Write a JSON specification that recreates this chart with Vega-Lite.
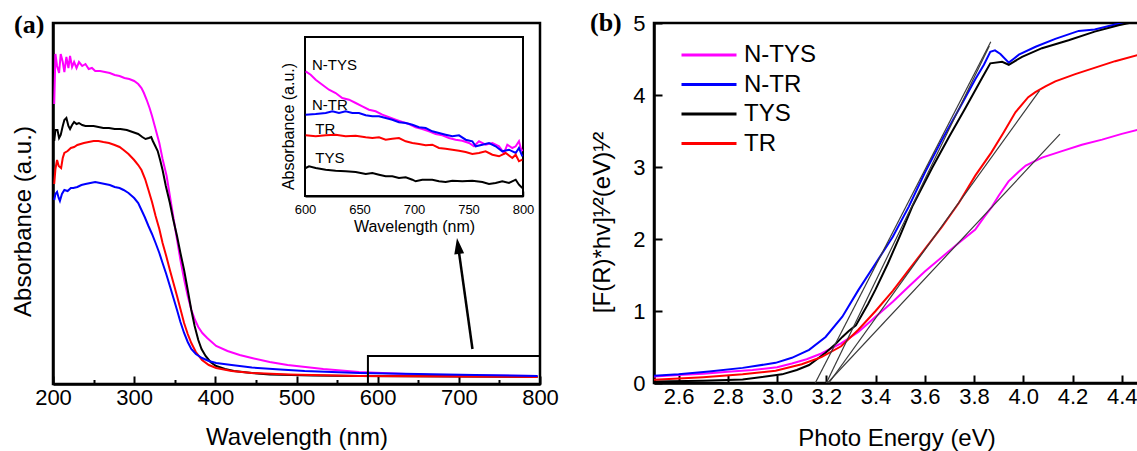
{
  "$schema": "https://vega.github.io/schema/vega-lite/v6.json",
  "background": "white",
  "padding": {"left": 9, "top": 8, "right": 0, "bottom": 0},
  "autosize": {"type": "pad"},
  "bounds": "flush",
  "spacing": 114,
  "config": {
    "font": "Liberation Sans",
    "view": {"stroke": "black", "strokeWidth": 2.5},
    "axis": {"domainColor": "black", "domainWidth": 2.5, "tickColor": "black", "tickWidth": 2, "labelFont": "Liberation Sans", "titleFont": "Liberation Sans", "labelColor": "black", "titleColor": "black", "titleFontWeight": "normal", "grid": false, "labelFlush": false, "labelOverlap": false},
    "text": {"font": "Liberation Sans"}
  },
  "resolve": {"scale": {"color": "independent"}},
  "datasets": {
    "mainA": [
      {"s":"N-TYS","wl":201.5,"v":280},{"s":"N-TYS","wl":203,"v":330},{"s":"N-TYS","wl":205,"v":318},{"s":"N-TYS","wl":207.5,"v":311},{"s":"N-TYS","wl":209.5,"v":330},{"s":"N-TYS","wl":212,"v":322},{"s":"N-TYS","wl":214,"v":312},{"s":"N-TYS","wl":216.5,"v":327},{"s":"N-TYS","wl":219,"v":316},{"s":"N-TYS","wl":221,"v":328},{"s":"N-TYS","wl":223.5,"v":317},{"s":"N-TYS","wl":226,"v":322},{"s":"N-TYS","wl":229,"v":316},{"s":"N-TYS","wl":232,"v":322},{"s":"N-TYS","wl":236,"v":318},{"s":"N-TYS","wl":240,"v":320},{"s":"N-TYS","wl":244,"v":315},{"s":"N-TYS","wl":248,"v":316},{"s":"N-TYS","wl":252,"v":313},{"s":"N-TYS","wl":258,"v":313},{"s":"N-TYS","wl":264,"v":312},{"s":"N-TYS","wl":270,"v":311},{"s":"N-TYS","wl":276,"v":309},{"s":"N-TYS","wl":282,"v":308},{"s":"N-TYS","wl":288,"v":306},{"s":"N-TYS","wl":294,"v":305},{"s":"N-TYS","wl":300,"v":303},{"s":"N-TYS","wl":305,"v":300},{"s":"N-TYS","wl":309,"v":296},{"s":"N-TYS","wl":312,"v":291},{"s":"N-TYS","wl":315.5,"v":284},{"s":"N-TYS","wl":319,"v":276},{"s":"N-TYS","wl":322,"v":268},{"s":"N-TYS","wl":326,"v":256},{"s":"N-TYS","wl":331,"v":241},{"s":"N-TYS","wl":335,"v":225},{"s":"N-TYS","wl":340,"v":208},{"s":"N-TYS","wl":344,"v":188},{"s":"N-TYS","wl":348,"v":168},{"s":"N-TYS","wl":352.5,"v":146},{"s":"N-TYS","wl":357,"v":124},{"s":"N-TYS","wl":361.5,"v":105},{"s":"N-TYS","wl":366,"v":88},{"s":"N-TYS","wl":370.5,"v":74},{"s":"N-TYS","wl":375,"v":64},{"s":"N-TYS","wl":379,"v":57},{"s":"N-TYS","wl":384,"v":51},{"s":"N-TYS","wl":390,"v":46},{"s":"N-TYS","wl":401,"v":38},{"s":"N-TYS","wl":415,"v":33},{"s":"N-TYS","wl":430,"v":29},{"s":"N-TYS","wl":445,"v":26},{"s":"N-TYS","wl":467,"v":22},{"s":"N-TYS","wl":489,"v":19},{"s":"N-TYS","wl":511,"v":17},{"s":"N-TYS","wl":533,"v":15},{"s":"N-TYS","wl":555,"v":13.5},{"s":"N-TYS","wl":577,"v":12},{"s":"N-TYS","wl":620,"v":10.5},{"s":"N-TYS","wl":665,"v":9},{"s":"N-TYS","wl":730,"v":8.5},{"s":"N-TYS","wl":797,"v":8},
      {"s":"TYS","wl":201.5,"v":243},{"s":"TYS","wl":203,"v":254},{"s":"TYS","wl":205.5,"v":254},{"s":"TYS","wl":207.5,"v":246},{"s":"TYS","wl":209.5,"v":249},{"s":"TYS","wl":212,"v":258},{"s":"TYS","wl":214,"v":264},{"s":"TYS","wl":216.5,"v":266},{"s":"TYS","wl":219,"v":258},{"s":"TYS","wl":221,"v":255},{"s":"TYS","wl":223.5,"v":259},{"s":"TYS","wl":226,"v":262},{"s":"TYS","wl":229,"v":260},{"s":"TYS","wl":232,"v":261},{"s":"TYS","wl":236,"v":259},{"s":"TYS","wl":240,"v":258},{"s":"TYS","wl":245,"v":258},{"s":"TYS","wl":250,"v":258},{"s":"TYS","wl":256,"v":257},{"s":"TYS","wl":262,"v":256},{"s":"TYS","wl":269,"v":256},{"s":"TYS","wl":276,"v":255},{"s":"TYS","wl":283,"v":255},{"s":"TYS","wl":291,"v":254},{"s":"TYS","wl":298,"v":252},{"s":"TYS","wl":305,"v":250},{"s":"TYS","wl":310,"v":247},{"s":"TYS","wl":314,"v":245},{"s":"TYS","wl":318,"v":246},{"s":"TYS","wl":321,"v":247},{"s":"TYS","wl":323,"v":243},{"s":"TYS","wl":326,"v":238},{"s":"TYS","wl":329,"v":233},{"s":"TYS","wl":332,"v":224},{"s":"TYS","wl":335,"v":214},{"s":"TYS","wl":339,"v":198},{"s":"TYS","wl":344,"v":181},{"s":"TYS","wl":348,"v":165},{"s":"TYS","wl":352.8,"v":148},{"s":"TYS","wl":357,"v":131},{"s":"TYS","wl":361.5,"v":114},{"s":"TYS","wl":366,"v":94},{"s":"TYS","wl":370.4,"v":74},{"s":"TYS","wl":374.5,"v":58},{"s":"TYS","wl":379,"v":44},{"s":"TYS","wl":383,"v":35},{"s":"TYS","wl":388,"v":28},{"s":"TYS","wl":394,"v":22},{"s":"TYS","wl":401,"v":18},{"s":"TYS","wl":412,"v":15},{"s":"TYS","wl":423,"v":13},{"s":"TYS","wl":445,"v":11},{"s":"TYS","wl":467,"v":9.5},{"s":"TYS","wl":520,"v":8.5},{"s":"TYS","wl":577,"v":8},{"s":"TYS","wl":700,"v":7.5},{"s":"TYS","wl":797,"v":7},
      {"s":"TR","wl":201.5,"v":200},{"s":"TR","wl":203,"v":215},{"s":"TR","wl":205,"v":224},{"s":"TR","wl":207,"v":218},{"s":"TR","wl":210,"v":216},{"s":"TR","wl":212,"v":226},{"s":"TR","wl":214,"v":231},{"s":"TR","wl":218,"v":233},{"s":"TR","wl":222,"v":236},{"s":"TR","wl":226,"v":237},{"s":"TR","wl":230,"v":239},{"s":"TR","wl":234,"v":240},{"s":"TR","wl":238,"v":241},{"s":"TR","wl":244,"v":242},{"s":"TR","wl":250,"v":243},{"s":"TR","wl":256,"v":243},{"s":"TR","wl":262,"v":242},{"s":"TR","wl":269,"v":241},{"s":"TR","wl":276,"v":239},{"s":"TR","wl":282,"v":237},{"s":"TR","wl":287,"v":234},{"s":"TR","wl":293,"v":230},{"s":"TR","wl":300,"v":224},{"s":"TR","wl":305,"v":219},{"s":"TR","wl":309,"v":214},{"s":"TR","wl":313.5,"v":205},{"s":"TR","wl":317.6,"v":194},{"s":"TR","wl":322,"v":182},{"s":"TR","wl":326.4,"v":168},{"s":"TR","wl":331,"v":155},{"s":"TR","wl":335,"v":141},{"s":"TR","wl":339.5,"v":128},{"s":"TR","wl":344,"v":114},{"s":"TR","wl":348.4,"v":101},{"s":"TR","wl":352.8,"v":88},{"s":"TR","wl":357,"v":75},{"s":"TR","wl":361.5,"v":61},{"s":"TR","wl":366,"v":50},{"s":"TR","wl":370.4,"v":41},{"s":"TR","wl":376,"v":32},{"s":"TR","wl":383.6,"v":24},{"s":"TR","wl":392,"v":19},{"s":"TR","wl":401,"v":16},{"s":"TR","wl":420,"v":13},{"s":"TR","wl":445,"v":11},{"s":"TR","wl":490,"v":9.5},{"s":"TR","wl":577,"v":8},{"s":"TR","wl":700,"v":7.5},{"s":"TR","wl":797,"v":7},
      {"s":"N-TR","wl":201.5,"v":184},{"s":"N-TR","wl":203,"v":190},{"s":"N-TR","wl":205,"v":192},{"s":"N-TR","wl":207,"v":186},{"s":"N-TR","wl":208.5,"v":183},{"s":"N-TR","wl":211,"v":190},{"s":"N-TR","wl":214,"v":194},{"s":"N-TR","wl":218,"v":193},{"s":"N-TR","wl":222,"v":196},{"s":"N-TR","wl":225,"v":196},{"s":"N-TR","wl":230,"v":197},{"s":"N-TR","wl":235,"v":199},{"s":"N-TR","wl":240,"v":200},{"s":"N-TR","wl":246,"v":201},{"s":"N-TR","wl":252,"v":202},{"s":"N-TR","wl":258,"v":201},{"s":"N-TR","wl":264,"v":200},{"s":"N-TR","wl":270,"v":199},{"s":"N-TR","wl":276,"v":197},{"s":"N-TR","wl":282,"v":196},{"s":"N-TR","wl":287,"v":194},{"s":"N-TR","wl":293,"v":191},{"s":"N-TR","wl":300,"v":186},{"s":"N-TR","wl":305,"v":181},{"s":"N-TR","wl":309,"v":174},{"s":"N-TR","wl":313,"v":167},{"s":"N-TR","wl":317.6,"v":158},{"s":"N-TR","wl":322,"v":150},{"s":"N-TR","wl":326.4,"v":141},{"s":"N-TR","wl":331,"v":131},{"s":"N-TR","wl":335,"v":121},{"s":"N-TR","wl":339.5,"v":110},{"s":"N-TR","wl":344,"v":98},{"s":"N-TR","wl":348.4,"v":86},{"s":"N-TR","wl":352.8,"v":74},{"s":"N-TR","wl":357,"v":62},{"s":"N-TR","wl":361.5,"v":51},{"s":"N-TR","wl":366,"v":42},{"s":"N-TR","wl":370.4,"v":35},{"s":"N-TR","wl":376,"v":30},{"s":"N-TR","wl":383.6,"v":26},{"s":"N-TR","wl":392,"v":23},{"s":"N-TR","wl":401,"v":21},{"s":"N-TR","wl":420,"v":19},{"s":"N-TR","wl":445,"v":16.5},{"s":"N-TR","wl":480,"v":14.5},{"s":"N-TR","wl":510,"v":13},{"s":"N-TR","wl":577,"v":11},{"s":"N-TR","wl":650,"v":10},{"s":"N-TR","wl":720,"v":9},{"s":"N-TR","wl":797,"v":8}
    ],
    "insetA": [
      {"s":"N-TYS","wl":600.6,"v":124.7},{"s":"N-TYS","wl":605.2,"v":121.3},{"s":"N-TYS","wl":609.8,"v":116.3},{"s":"N-TYS","wl":615.9,"v":111.3},{"s":"N-TYS","wl":622,"v":106.3},{"s":"N-TYS","wl":628.1,"v":103},{"s":"N-TYS","wl":634.2,"v":98},{"s":"N-TYS","wl":640.4,"v":96.3},{"s":"N-TYS","wl":646.5,"v":93},{"s":"N-TYS","wl":652.6,"v":89.7},{"s":"N-TYS","wl":658.7,"v":86.3},{"s":"N-TYS","wl":664.8,"v":84.7},{"s":"N-TYS","wl":670.9,"v":81.3},{"s":"N-TYS","wl":677.1,"v":78.7},{"s":"N-TYS","wl":683.2,"v":76.3},{"s":"N-TYS","wl":689.3,"v":74},{"s":"N-TYS","wl":695.4,"v":72},{"s":"N-TYS","wl":701.5,"v":68.7},{"s":"N-TYS","wl":707.6,"v":67},{"s":"N-TYS","wl":713.8,"v":64.7},{"s":"N-TYS","wl":719.9,"v":62},{"s":"N-TYS","wl":726,"v":60.7},{"s":"N-TYS","wl":732.1,"v":58},{"s":"N-TYS","wl":738.2,"v":56.3},{"s":"N-TYS","wl":744.3,"v":55.3},{"s":"N-TYS","wl":750.5,"v":53},{"s":"N-TYS","wl":755,"v":49.7},{"s":"N-TYS","wl":759.6,"v":54.7},{"s":"N-TYS","wl":765.7,"v":51.3},{"s":"N-TYS","wl":771.9,"v":53},{"s":"N-TYS","wl":778,"v":49.7},{"s":"N-TYS","wl":782.6,"v":43},{"s":"N-TYS","wl":785.6,"v":51.3},{"s":"N-TYS","wl":790.2,"v":48},{"s":"N-TYS","wl":793.3,"v":49.7},{"s":"N-TYS","wl":796.3,"v":54.7},{"s":"N-TYS","wl":797.9,"v":48},{"s":"N-TYS","wl":799.4,"v":44.7},
      {"s":"N-TR","wl":600.6,"v":81.3},{"s":"N-TR","wl":609.8,"v":82},{"s":"N-TR","wl":619,"v":83},{"s":"N-TR","wl":625.1,"v":84.7},{"s":"N-TR","wl":631.2,"v":83},{"s":"N-TR","wl":637.3,"v":84.7},{"s":"N-TR","wl":643.4,"v":83},{"s":"N-TR","wl":649.5,"v":83},{"s":"N-TR","wl":655.7,"v":80.7},{"s":"N-TR","wl":661.8,"v":79.7},{"s":"N-TR","wl":667.9,"v":79.7},{"s":"N-TR","wl":674,"v":78},{"s":"N-TR","wl":680.1,"v":76.3},{"s":"N-TR","wl":686.2,"v":73.7},{"s":"N-TR","wl":692.4,"v":73},{"s":"N-TR","wl":698.5,"v":71.3},{"s":"N-TR","wl":704.6,"v":68.7},{"s":"N-TR","wl":710.7,"v":68},{"s":"N-TR","wl":716.8,"v":64.7},{"s":"N-TR","wl":722.9,"v":63},{"s":"N-TR","wl":729,"v":61.3},{"s":"N-TR","wl":735.2,"v":59.7},{"s":"N-TR","wl":741.3,"v":60.7},{"s":"N-TR","wl":747.4,"v":56.3},{"s":"N-TR","wl":753.5,"v":54.7},{"s":"N-TR","wl":756.6,"v":49.7},{"s":"N-TR","wl":762.7,"v":51.3},{"s":"N-TR","wl":768.8,"v":53},{"s":"N-TR","wl":774.9,"v":49.7},{"s":"N-TR","wl":781,"v":44.7},{"s":"N-TR","wl":787.1,"v":46.3},{"s":"N-TR","wl":793.3,"v":43},{"s":"N-TR","wl":796.3,"v":48},{"s":"N-TR","wl":799.4,"v":39.7},
      {"s":"TR","wl":600.6,"v":60.7},{"s":"TR","wl":609.8,"v":59.7},{"s":"TR","wl":619,"v":60.7},{"s":"TR","wl":628.1,"v":61.3},{"s":"TR","wl":637.3,"v":59.7},{"s":"TR","wl":646.5,"v":60.3},{"s":"TR","wl":655.7,"v":58.7},{"s":"TR","wl":661.8,"v":58},{"s":"TR","wl":667.9,"v":58.7},{"s":"TR","wl":674,"v":56.3},{"s":"TR","wl":680.1,"v":57.3},{"s":"TR","wl":686.2,"v":58},{"s":"TR","wl":692.4,"v":54.7},{"s":"TR","wl":698.5,"v":53},{"s":"TR","wl":704.6,"v":52},{"s":"TR","wl":710.7,"v":50.7},{"s":"TR","wl":716.8,"v":51.3},{"s":"TR","wl":722.9,"v":48},{"s":"TR","wl":729,"v":47.3},{"s":"TR","wl":735.2,"v":46.3},{"s":"TR","wl":741.3,"v":45.3},{"s":"TR","wl":747.4,"v":44},{"s":"TR","wl":753.5,"v":42},{"s":"TR","wl":759.6,"v":43},{"s":"TR","wl":765.7,"v":44.7},{"s":"TR","wl":771.9,"v":41.3},{"s":"TR","wl":778,"v":39.7},{"s":"TR","wl":784.1,"v":43},{"s":"TR","wl":790.2,"v":38},{"s":"TR","wl":793.3,"v":41.3},{"s":"TR","wl":796.3,"v":34.7},{"s":"TR","wl":799.4,"v":36.3},
      {"s":"TYS","wl":600.6,"v":28},{"s":"TYS","wl":603.7,"v":29.7},{"s":"TYS","wl":609.8,"v":28},{"s":"TYS","wl":619,"v":26.3},{"s":"TYS","wl":628.1,"v":25.3},{"s":"TYS","wl":637.3,"v":24.7},{"s":"TYS","wl":646.5,"v":24},{"s":"TYS","wl":655.7,"v":22},{"s":"TYS","wl":661.8,"v":23},{"s":"TYS","wl":667.9,"v":21.3},{"s":"TYS","wl":674,"v":19.7},{"s":"TYS","wl":680.1,"v":19.7},{"s":"TYS","wl":686.2,"v":18},{"s":"TYS","wl":692.4,"v":18.7},{"s":"TYS","wl":698.5,"v":16.3},{"s":"TYS","wl":701.5,"v":14.7},{"s":"TYS","wl":707.6,"v":16.3},{"s":"TYS","wl":716.8,"v":16.3},{"s":"TYS","wl":722.9,"v":14.7},{"s":"TYS","wl":729,"v":14},{"s":"TYS","wl":735.2,"v":15.3},{"s":"TYS","wl":744.3,"v":14.7},{"s":"TYS","wl":753.5,"v":15.3},{"s":"TYS","wl":762.7,"v":14},{"s":"TYS","wl":768.8,"v":12},{"s":"TYS","wl":774.9,"v":13},{"s":"TYS","wl":781,"v":14.7},{"s":"TYS","wl":787.1,"v":13},{"s":"TYS","wl":793.3,"v":16.3},{"s":"TYS","wl":796.3,"v":11.3},{"s":"TYS","wl":799.4,"v":8}
    ],
    "insetLabels": [
      {"label":"N-TYS","wl":606.4,"v":130.7},
      {"label":"N-TR","wl":606.4,"v":91.3},
      {"label":"TR","wl":609.4,"v":66.7},
      {"label":"TYS","wl":609.4,"v":38}
    ],
    "curvesB": [
      {"s":"N-TYS","e":2.5,"v":0.09},{"s":"N-TYS","e":2.6,"v":0.11},{"s":"N-TYS","e":2.7,"v":0.13},{"s":"N-TYS","e":2.8,"v":0.155},{"s":"N-TYS","e":2.9,"v":0.18},{"s":"N-TYS","e":3.0,"v":0.22},{"s":"N-TYS","e":3.06,"v":0.27},{"s":"N-TYS","e":3.12,"v":0.33},{"s":"N-TYS","e":3.18,"v":0.41},{"s":"N-TYS","e":3.22,"v":0.48},{"s":"N-TYS","e":3.26,"v":0.55},{"s":"N-TYS","e":3.3,"v":0.64},{"s":"N-TYS","e":3.33,"v":0.71},{"s":"N-TYS","e":3.36,"v":0.8},{"s":"N-TYS","e":3.4,"v":0.92},{"s":"N-TYS","e":3.47,"v":1.13},{"s":"N-TYS","e":3.535,"v":1.34},{"s":"N-TYS","e":3.6,"v":1.55},{"s":"N-TYS","e":3.67,"v":1.75},{"s":"N-TYS","e":3.74,"v":1.95},{"s":"N-TYS","e":3.805,"v":2.13},{"s":"N-TYS","e":3.84,"v":2.3},{"s":"N-TYS","e":3.873,"v":2.45},{"s":"N-TYS","e":3.9,"v":2.6},{"s":"N-TYS","e":3.94,"v":2.8},{"s":"N-TYS","e":3.98,"v":2.93},{"s":"N-TYS","e":4.01,"v":3.02},{"s":"N-TYS","e":4.076,"v":3.13},{"s":"N-TYS","e":4.157,"v":3.22},{"s":"N-TYS","e":4.238,"v":3.31},{"s":"N-TYS","e":4.32,"v":3.38},{"s":"N-TYS","e":4.4,"v":3.46},{"s":"N-TYS","e":4.47,"v":3.52},
      {"s":"N-TR","e":2.5,"v":0.1},{"s":"N-TR","e":2.6,"v":0.12},{"s":"N-TR","e":2.724,"v":0.16},{"s":"N-TR","e":2.86,"v":0.21},{"s":"N-TR","e":2.994,"v":0.28},{"s":"N-TR","e":3.06,"v":0.35},{"s":"N-TR","e":3.13,"v":0.46},{"s":"N-TR","e":3.197,"v":0.64},{"s":"N-TR","e":3.265,"v":0.92},{"s":"N-TR","e":3.33,"v":1.29},{"s":"N-TR","e":3.4,"v":1.66},{"s":"N-TR","e":3.47,"v":2.03},{"s":"N-TR","e":3.535,"v":2.45},{"s":"N-TR","e":3.6,"v":2.92},{"s":"N-TR","e":3.67,"v":3.38},{"s":"N-TR","e":3.738,"v":3.8},{"s":"N-TR","e":3.805,"v":4.22},{"s":"N-TR","e":3.84,"v":4.42},{"s":"N-TR","e":3.866,"v":4.6},{"s":"N-TR","e":3.885,"v":4.62},{"s":"N-TR","e":3.907,"v":4.57},{"s":"N-TR","e":3.941,"v":4.45},{"s":"N-TR","e":3.96,"v":4.5},{"s":"N-TR","e":3.982,"v":4.56},{"s":"N-TR","e":4.05,"v":4.67},{"s":"N-TR","e":4.13,"v":4.78},{"s":"N-TR","e":4.225,"v":4.89},{"s":"N-TR","e":4.29,"v":4.91},{"s":"N-TR","e":4.373,"v":4.98},{"s":"N-TR","e":4.41,"v":5.0},
      {"s":"TYS","e":2.5,"v":0.02},{"s":"TYS","e":2.7,"v":0.03},{"s":"TYS","e":2.86,"v":0.05},{"s":"TYS","e":3.02,"v":0.12},{"s":"TYS","e":3.08,"v":0.18},{"s":"TYS","e":3.13,"v":0.25},{"s":"TYS","e":3.197,"v":0.42},{"s":"TYS","e":3.24,"v":0.55},{"s":"TYS","e":3.265,"v":0.64},{"s":"TYS","e":3.29,"v":0.72},{"s":"TYS","e":3.305,"v":0.76},{"s":"TYS","e":3.32,"v":0.8},{"s":"TYS","e":3.34,"v":0.92},{"s":"TYS","e":3.37,"v":1.1},{"s":"TYS","e":3.4,"v":1.3},{"s":"TYS","e":3.45,"v":1.66},{"s":"TYS","e":3.5,"v":2.05},{"s":"TYS","e":3.549,"v":2.45},{"s":"TYS","e":3.63,"v":2.99},{"s":"TYS","e":3.697,"v":3.41},{"s":"TYS","e":3.765,"v":3.82},{"s":"TYS","e":3.833,"v":4.24},{"s":"TYS","e":3.866,"v":4.44},{"s":"TYS","e":3.914,"v":4.46},{"s":"TYS","e":3.941,"v":4.42},{"s":"TYS","e":3.995,"v":4.53},{"s":"TYS","e":4.076,"v":4.65},{"s":"TYS","e":4.184,"v":4.76},{"s":"TYS","e":4.29,"v":4.88},{"s":"TYS","e":4.387,"v":4.97},{"s":"TYS","e":4.43,"v":5.0},
      {"s":"TR","e":2.5,"v":0.045},{"s":"TR","e":2.7,"v":0.08},{"s":"TR","e":2.86,"v":0.12},{"s":"TR","e":2.994,"v":0.17},{"s":"TR","e":3.1,"v":0.26},{"s":"TR","e":3.18,"v":0.36},{"s":"TR","e":3.26,"v":0.51},{"s":"TR","e":3.33,"v":0.74},{"s":"TR","e":3.4,"v":1.0},{"s":"TR","e":3.47,"v":1.28},{"s":"TR","e":3.535,"v":1.57},{"s":"TR","e":3.6,"v":1.86},{"s":"TR","e":3.67,"v":2.17},{"s":"TR","e":3.738,"v":2.5},{"s":"TR","e":3.805,"v":2.88},{"s":"TR","e":3.87,"v":3.2},{"s":"TR","e":3.92,"v":3.48},{"s":"TR","e":3.968,"v":3.76},{"s":"TR","e":4.02,"v":3.97},{"s":"TR","e":4.049,"v":4.04},{"s":"TR","e":4.09,"v":4.12},{"s":"TR","e":4.13,"v":4.19},{"s":"TR","e":4.211,"v":4.29},{"s":"TR","e":4.292,"v":4.38},{"s":"TR","e":4.373,"v":4.47},{"s":"TR","e":4.47,"v":4.56}
    ],
    "tangB": [
      {"t":"a","e":3.155,"v":0},{"t":"a","e":3.868,"v":4.74},
      {"t":"b","e":3.2,"v":0},{"t":"b","e":3.862,"v":4.68},
      {"t":"c","e":3.21,"v":0},{"t":"c","e":4.066,"v":4.06},
      {"t":"d","e":3.205,"v":0},{"t":"d","e":4.149,"v":3.457}
    ]
  },
  "hconcat": [
    {
      "width": 487,
      "height": 361,
      "title": {"text": "(a)", "anchor": "start", "frame": "group", "dx": -39, "dy": 36, "offset": 0, "font": "Liberation Serif", "fontSize": 26, "fontWeight": "bold", "color": "black", "baseline": "alphabetic"},
      "layer": [
        {
          "layer": [
            {
              "data": {"name": "mainA"},
              "mark": {"type": "line", "strokeWidth": 2},
              "encoding": {
                "x": {"field": "wl", "type": "quantitative", "scale": {"domain": [200, 800], "nice": false, "zero": false},
                  "axis": {"title": "Wavelength (nm)", "titleFontSize": 24, "labelFontSize": 22, "values": [200,250,300,350,400,450,500,550,600,650,700,750,800], "labelExpr": "datum.value % 100 === 0 ? datum.label : ''", "tickSize": {"expr": "datum.value % 100 === 0 ? -8 : -4.5"}, "labelPadding": 11, "titlePadding": 14}},
                "y": {"field": "v", "type": "quantitative", "scale": {"domain": [0, 361], "nice": false, "zero": false},
                  "axis": {"title": "Absorbance (a.u.)", "titleFontSize": 24, "labels": false, "ticks": false, "titleX": -18, "titleY": 198}},
                "color": {"field": "s", "type": "nominal", "scale": {"domain": ["N-TYS","N-TR","TYS","TR"], "range": ["#FF00FF","#0000FF","#000000","#FF0000"]}, "legend": null}
              }
            },
            {
              "data": {"values": [{"x1": 588, "x2": 800, "y1": 0, "y2": 28}]},
              "mark": {"type": "rect", "fillOpacity": 0, "stroke": "black", "strokeWidth": 2},
              "encoding": {
                "x": {"field": "x1", "type": "quantitative", "scale": {"domain": [200, 800], "nice": false, "zero": false}},
                "x2": {"field": "x2"},
                "y": {"field": "y1", "type": "quantitative", "scale": {"domain": [0, 361], "nice": false, "zero": false}},
                "y2": {"field": "y2"}
              }
            },
            {
              "data": {"values": [{"wl": 716.8, "v": 35}, {"wl": 699.1, "v": 138}]},
              "mark": {"type": "line", "color": "black", "strokeWidth": 2.5},
              "encoding": {
                "x": {"field": "wl", "type": "quantitative", "scale": {"domain": [200, 800], "nice": false, "zero": false}},
                "y": {"field": "v", "type": "quantitative", "scale": {"domain": [0, 361], "nice": false, "zero": false}}
              }
            },
            {
              "data": {"values": [{"wl": 699.1, "v": 138}]},
              "mark": {"type": "point", "shape": "M0,-1L-0.62,1L0.62,1Z", "filled": true, "color": "black", "opacity": 1, "size": 256, "angle": -8},
              "encoding": {
                "x": {"field": "wl", "type": "quantitative", "scale": {"domain": [200, 800], "nice": false, "zero": false}},
                "y": {"field": "v", "type": "quantitative", "scale": {"domain": [0, 361], "nice": false, "zero": false}}
              }
            }
          ]
        },
        {
          "layer": [
            {
              "data": {"values": [{"a": 600, "b": 800, "c": 0, "d": 159}]},
              "mark": {"type": "rect", "fill": "white", "stroke": "black", "strokeWidth": 2},
              "encoding": {
                "x": {"field": "a", "type": "quantitative", "scale": {"domain": [600, 800], "range": [252, 470], "nice": false, "zero": false},
                  "axis": {"orient": "bottom", "offset": -188, "title": "Wavelength (nm)", "titleFontSize": 16, "labelFontSize": 13, "values": [600,625,650,675,700,725,750,775,800], "labelExpr": "datum.value % 50 === 0 ? datum.label : ''", "tickSize": {"expr": "datum.value % 50 === 0 ? -5 : -3"}, "labelPadding": 12, "titlePadding": 0, "domainWidth": 2, "tickWidth": 1.5}},
                "x2": {"field": "b"},
                "y": {"field": "c", "type": "quantitative", "scale": {"domain": [0, 159], "range": [173, 14], "nice": false, "zero": false},
                  "axis": {"orient": "left", "offset": -252, "title": "Absorbance (a.u.)", "titleFontSize": 16, "labels": false, "ticks": false, "domainWidth": 2, "titleX": -9, "titleY": 103}},
                "y2": {"field": "d"}
              }
            },
            {
              "data": {"name": "insetA"},
              "mark": {"type": "line", "strokeWidth": 2},
              "encoding": {
                "x": {"field": "wl", "type": "quantitative", "scale": {"domain": [600, 800], "range": [252, 470], "nice": false, "zero": false}},
                "y": {"field": "v", "type": "quantitative", "scale": {"domain": [0, 159], "range": [173, 14], "nice": false, "zero": false}},
                "color": {"field": "s", "type": "nominal", "scale": {"domain": ["N-TYS","N-TR","TYS","TR"], "range": ["#FF00FF","#0000FF","#000000","#FF0000"]}, "legend": null}
              }
            },
            {
              "data": {"name": "insetLabels"},
              "mark": {"type": "text", "align": "left", "baseline": "middle", "fontSize": 15, "color": "black"},
              "encoding": {
                "x": {"field": "wl", "type": "quantitative", "scale": {"domain": [600, 800], "range": [252, 470], "nice": false, "zero": false}},
                "y": {"field": "v", "type": "quantitative", "scale": {"domain": [0, 159], "range": [173, 14], "nice": false, "zero": false}},
                "text": {"field": "label"}
              }
            }
          ]
        }
      ],
      "resolve": {"scale": {"x": "independent", "y": "independent"}, "axis": {"x": "independent", "y": "independent"}}
    },
    {
      "width": 485,
      "height": 360,
      "title": {"text": "(b)", "anchor": "start", "frame": "group", "dx": -64, "dy": 45, "offset": 0, "font": "Liberation Serif", "fontSize": 26, "fontWeight": "bold", "color": "black", "baseline": "alphabetic"},
      "layer": [
        {
          "data": {"name": "curvesB"},
          "mark": {"type": "line", "strokeWidth": 2, "clip": true},
          "encoding": {
            "x": {"field": "e", "type": "quantitative", "scale": {"domain": [2.5, 4.47], "nice": false, "zero": false},
              "axis": {"title": "Photo Energy (eV)", "titleFontSize": 24, "labelFontSize": 22, "values": [2.6,2.7,2.8,2.9,3.0,3.1,3.2,3.3,3.4,3.5,3.6,3.7,3.8,3.9,4.0,4.1,4.2,4.3,4.4], "labelExpr": "round(datum.value*10) % 2 === 0 ? format(datum.value, '.1f') : ''", "tickSize": {"expr": "round(datum.value*10) % 2 === 0 ? -8 : -4.5"}, "labelPadding": 11, "titlePadding": 19}},
            "y": {"field": "v", "type": "quantitative", "scale": {"domain": [0, 5], "nice": false, "zero": false},
              "axis": {"title": "[F(R)*hv]¹⁄²(eV)¹⁄²", "titleFontSize": 24, "labelFontSize": 22, "values": [0,0.5,1,1.5,2,2.5,3,3.5,4,4.5,5], "labelExpr": "datum.value % 1 === 0 ? format(datum.value, '.0f') : ''", "tickSize": {"expr": "datum.value % 1 === 0 ? -8 : -4.5"}, "labelPadding": 17, "titleX": -40, "titleY": 199}},
            "color": {"field": "s", "type": "nominal", "scale": {"domain": ["N-TYS","N-TR","TYS","TR"], "range": ["#FF00FF","#0000FF","#000000","#FF0000"]},
              "legend": {"title": null, "orient": "none", "legendX": 26, "legendY": 20, "symbolType": "stroke", "symbolSize": 3025, "symbolStrokeWidth": 3, "labelFontSize": 24, "labelFont": "Liberation Sans", "labelColor": "black", "clipHeight": 24, "rowPadding": 5.5, "labelOffset": 6, "padding": 0, "labelLimit": 300}}
          }
        },
        {
          "data": {"name": "tangB"},
          "mark": {"type": "line", "strokeWidth": 1.2, "color": "#3a3a3a", "clip": true},
          "encoding": {
            "x": {"field": "e", "type": "quantitative", "scale": {"domain": [2.5, 4.47], "nice": false, "zero": false}},
            "y": {"field": "v", "type": "quantitative", "scale": {"domain": [0, 5], "nice": false, "zero": false}},
            "detail": {"field": "t"}
          }
        }
      ]
    }
  ]
}
